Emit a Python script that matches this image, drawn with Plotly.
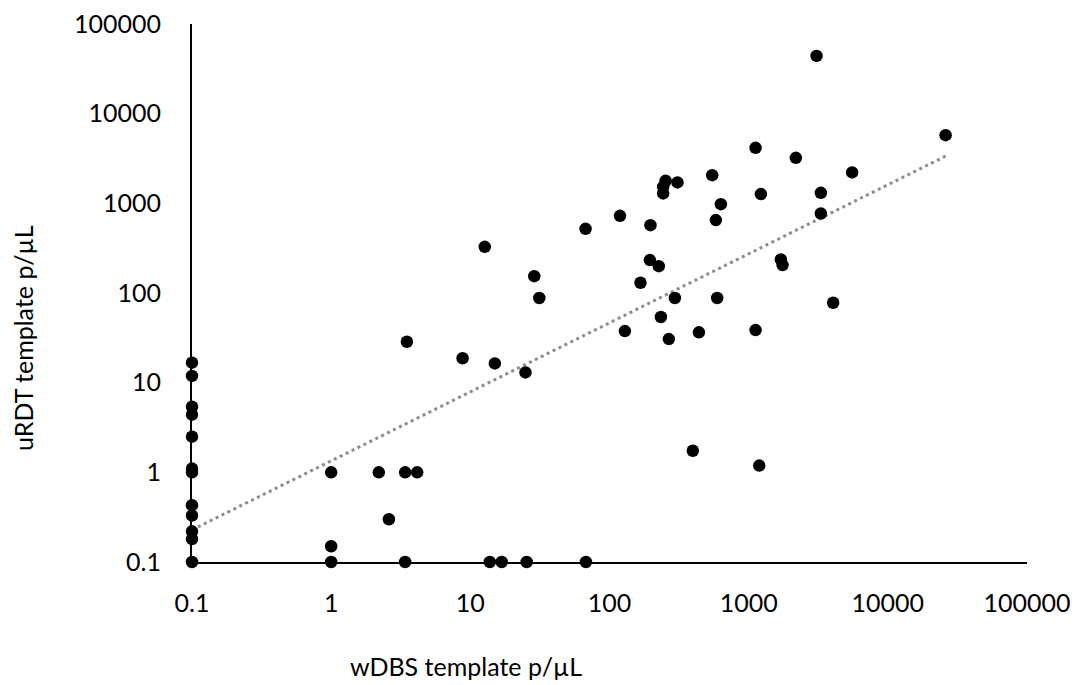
import plotly.graph_objects as go

# wDBS vs uRDT template concentrations (p/µL); values below detection plotted at 0.1
wdbs = [
    0.1, 0.1, 0.1, 0.1, 0.1, 0.1, 0.1, 0.1, 0.1, 0.1, 0.1, 0.1,
    1, 3.4, 13.8, 16.8, 25.4, 67.7,
    1, 1, 2.2, 3.4, 4.15, 2.6,
    3.5, 8.8, 15.0, 24.9,
    12.7, 28.8, 31.3, 67.3, 119, 197,
    253, 243, 243, 308, 547, 1224, 631, 581,
    195, 226, 167, 295, 594, 234, 129, 267, 439, 1121,
    3074, 26000, 1121, 2183, 5543, 3302, 3302, 1703, 1753, 4046,
    397, 1191,
]
urdt = [
    16.7, 11.9, 5.4, 4.4, 2.5, 1.1, 1.0, 0.43, 0.33, 0.22, 0.18, 0.1,
    0.1, 0.1, 0.1, 0.1, 0.1, 0.1,
    0.15, 1.0, 1.0, 1.0, 1.0, 0.30,
    28.6, 18.7, 16.4, 13.0,
    327, 154, 88, 520, 726, 571,
    1782, 1528, 1289, 1710, 2062, 1267, 979, 650,
    233, 199, 130, 88, 88, 54, 37.6, 30.6, 36.4, 38.6,
    44100, 5760, 4160, 3216, 2212, 1310, 771, 237, 205, 77.8,
    1.74, 1.19,
]

# power trendline end points
trend_x = [0.1, 26000]
trend_y = [0.228, 3360]

tick_vals = [0.1, 1, 10, 100, 1000, 10000, 100000]
tick_text = ["0.1", "1", "10", "100", "1000", "10000", "100000"]

FONT = "Lato"

fig = go.Figure()
fig.add_trace(go.Scatter(
    x=trend_x, y=trend_y, mode="lines",
    line=dict(color="#8c8c8c", width=3, dash="3px,3.6px"),
    hoverinfo="skip", showlegend=False,
))
fig.add_trace(go.Scatter(
    x=wdbs, y=urdt, mode="markers",
    marker=dict(color="black", size=12.5, line=dict(width=0)),
    cliponaxis=False, showlegend=False,
))

axis_common = dict(
    type="log", range=[-1, 5], tickvals=tick_vals, ticktext=tick_text,
    showgrid=False, zeroline=False, showline=True, linecolor="black",
    linewidth=2, ticks="outside", tickcolor="rgba(0,0,0,0)",
    tickfont=dict(family=FONT, size=25, color="black"),
    automargin=False,
)
fig.update_xaxes(**axis_common, ticklen=18)
fig.update_yaxes(**axis_common, ticklen=24)

fig.update_layout(
    width=1080, height=685,
    margin=dict(l=192, r=53, t=24, b=123),
    paper_bgcolor="white", plot_bgcolor="white",
    annotations=[
        dict(text="wDBS template p/µL", xref="paper", yref="paper",
             x=0.328, y=-0.193, xanchor="center", yanchor="middle",
             showarrow=False, font=dict(family=FONT, size=25, color="black")),
        dict(text="uRDT template p/µL", xref="paper", yref="paper",
             x=-0.2024, y=0.4164, xanchor="center", yanchor="middle",
             textangle=-90, showarrow=False,
             font=dict(family=FONT, size=25, color="black")),
    ],
)

fig.write_html("out.html")
